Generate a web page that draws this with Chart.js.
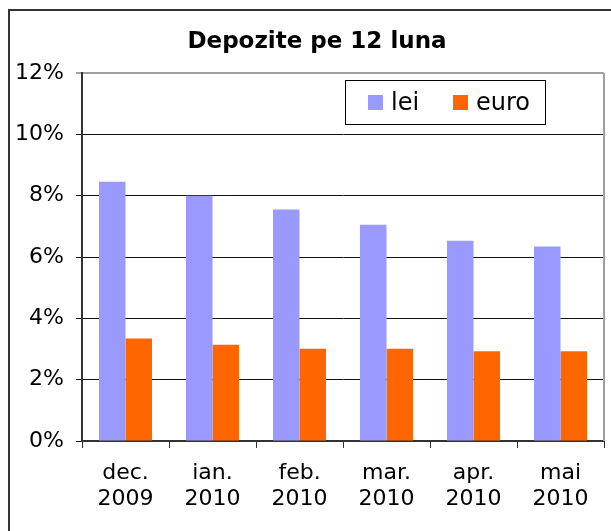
<!DOCTYPE html>
<html>
<head>
<meta charset="utf-8">
<script src="https://cdn.jsdelivr.net/npm/chart.js"></script>
<style>
body { margin: 0; background: #fff; }
canvas { display: block; }
</style>
</head>
<body>
<canvas id="mycanvas" width="611" height="531"></canvas>
<script>
var luni = [['dec.', '2009'], ['ian.', '2010'], ['feb.', '2010'], ['mar.', '2010'], ['apr.', '2010'], ['mai', '2010']];
var lei = [8.45, 8.0, 7.55, 7.05, 6.53, 6.34];
var euro = [3.34, 3.14, 3.01, 3.01, 2.93, 2.93];
var yMin = 0, yMax = 12, yPas = 2;
var titlu = 'Depozite pe 12 luna';

var FONT = '"DejaVu Sans", Verdana, sans-serif';
Chart.defaults.font.family = FONT;
Chart.defaults.color = '#000';

// chenarul exterior, titlul si marginea din dreapta a zonei de desen
var chenar = {
    id: 'chenar',
    beforeDraw: function(chart) {
        var ctx = chart.ctx;
        ctx.save();
        ctx.strokeStyle = '#333';
        ctx.lineWidth = 2;
        ctx.beginPath();
        ctx.moveTo(9, 531);
        ctx.lineTo(9, 10);
        ctx.lineTo(611, 10);
        ctx.stroke();
        ctx.fillStyle = '#000';
        ctx.font = 'bold 23px ' + FONT;
        ctx.textAlign = 'center';
        ctx.textBaseline = 'alphabetic';
        ctx.fillText(titlu, 317, 48);
        ctx.restore();
    },
    afterDatasetsDraw: function(chart) {
        var ctx = chart.ctx, a = chart.chartArea;
        ctx.save();
        ctx.strokeStyle = '#a0a0a0';
        ctx.lineWidth = 2;
        ctx.beginPath();
        ctx.moveTo(a.right, a.top);
        ctx.lineTo(a.right, a.bottom);
        ctx.stroke();
        ctx.restore();
    }
};

// legenda in interiorul zonei de desen
var legenda = {
    id: 'legenda',
    afterDraw: function(chart) {
        var ctx = chart.ctx;
        var x = 345, y = 80, w = 200, h = 44;
        ctx.save();
        ctx.fillStyle = '#fff';
        ctx.fillRect(x, y, w, h);
        ctx.strokeStyle = '#000';
        ctx.lineWidth = 1;
        ctx.strokeRect(x + 0.5, y + 0.5, w, h);
        ctx.font = '24px ' + FONT;
        ctx.textBaseline = 'alphabetic';
        var pozitii = [368, 453];
        chart.data.datasets.forEach(function(ds, i) {
            var px = pozitii[i];
            ctx.fillStyle = ds.backgroundColor;
            ctx.fillRect(px, y + 15, 15, 15);
            ctx.fillStyle = '#000';
            ctx.fillText(ds.label, px + 23, y + 30);
        });
        ctx.restore();
    }
};

var ctx = document.getElementById('mycanvas');

var grafic = new Chart(ctx, {
    type: 'bar',
    data: {
        labels: luni,
        datasets: [
            {
                label: 'lei',
                data: lei,
                backgroundColor: '#9999ff',
                borderWidth: 0,
                categoryPercentage: 0.61,
                barPercentage: 1
            },
            {
                label: 'euro',
                data: euro,
                backgroundColor: '#ff6600',
                borderWidth: 0,
                categoryPercentage: 0.61,
                barPercentage: 1
            }
        ]
    },
    options: {
        responsive: false,
        animation: false,
        layout: { padding: { top: 73, right: 7, bottom: 0, left: 0 } },
        plugins: {
            legend: { display: false },
            tooltip: { enabled: false },
            title: { display: false }
        },
        scales: {
            x: {
                grid: {
                    offset: true,
                    drawOnChartArea: false,
                    tickLength: 7,
                    color: '#333',
                    lineWidth: 1
                },
                border: { color: '#333', width: 2 },
                ticks: {
                    color: '#000',
                    font: { size: 22, lineHeight: 1.18 },
                    padding: 12,
                    maxRotation: 0
                },
                afterFit: function(s) { s.height = 90; }
            },
            y: {
                min: yMin,
                max: yMax,
                ticks: {
                    stepSize: yPas,
                    color: '#000',
                    font: { size: 22 },
                    padding: 12,
                    callback: function(v) { return v + '%'; }
                },
                grid: {
                    tickLength: 6,
                    lineWidth: function(c) { return c.tick && c.tick.value === yMax ? 2 : 1; },
                    color: function(c) { return c.tick && c.tick.value === yMax ? '#a0a0a0' : '#111'; }
                },
                border: { color: '#333', width: 2 },
                afterFit: function(s) { s.width = 82; }
            }
        }
    },
    plugins: [chenar, legenda]
});
</script>
</body>
</html>
